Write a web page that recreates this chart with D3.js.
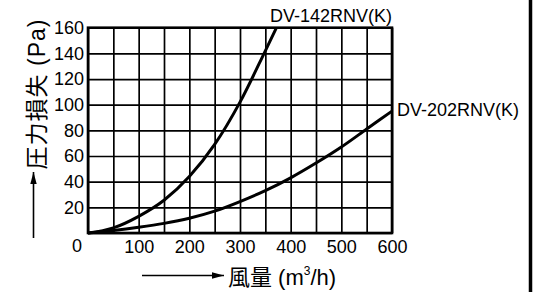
<!DOCTYPE html>
<html>
<head>
<meta charset="utf-8">
<script src="https://cdn.jsdelivr.net/npm/d3@7"></script>
<style>
  body { margin: 0; background: #fff; }
  text { font-family: "Liberation Sans", Arial, "Noto Sans CJK JP", sans-serif; fill: #000; }
  .grid line { stroke: #000; stroke-width: 1.7; }
  .grid path { display: none; }
  .labels path, .labels line { display: none; }
</style>
</head>
<body>
<div id="chart"></div>
<script>
// air flow (m3/h) and pressure loss (Pa)
const flow142 = [0, 50, 100, 150, 200, 250, 300, 350, 372];
const loss142 = [0, 4, 13, 25.5, 44, 69, 102, 142, 160];
const flow202 = [0, 50, 100, 150, 200, 250, 300, 350, 400, 450, 500, 550, 600];
const loss202 = [0, 2, 4.5, 7.5, 11.5, 17, 24.5, 33, 43, 54.5, 67, 81, 95];
const seriesNames = ["DV-142RNV(K)", "DV-202RNV(K)"];
const xTicks = [100, 200, 300, 400, 500, 600];
const yTicks = [20, 40, 60, 80, 100, 120, 140, 160];
const xGrid = d3.range(0, 601, 50);
const yGrid = d3.range(0, 161, 20);

const W = 534, H = 292;
const margin = { top: 27.7, right: 142, bottom: 59, left: 88 };
const width = W - margin.left - margin.right,
      height = H - margin.top - margin.bottom;

const svg = d3.select("#chart").append("svg")
    .attr("width", W)
    .attr("height", H);

const g = svg.append("g")
    .attr("transform", "translate(" + margin.left + "," + margin.top + ")");

const x = d3.scaleLinear().domain([0, 600]).range([0, width]);
const y = d3.scaleLinear().domain([0, 160]).range([height, 0]);

// grid lines
g.append("g").attr("class", "grid")
    .attr("transform", "translate(0," + height + ")")
    .call(d3.axisBottom(x).tickValues(xGrid).tickSize(-height).tickFormat(""));
g.append("g").attr("class", "grid")
    .call(d3.axisLeft(y).tickValues(yGrid).tickSize(-width).tickFormat(""));

// frame
g.append("rect")
    .attr("width", width).attr("height", height)
    .attr("fill", "none").attr("stroke", "#000").attr("stroke-width", 2.6);

// tick labels
g.append("g").attr("class", "labels")
    .attr("transform", "translate(0," + height + ")")
    .call(d3.axisBottom(x).tickValues(xTicks).tickSize(0).tickPadding(7))
    .selectAll("text").style("font-size", "18px");
g.append("g").attr("class", "labels")
    .call(d3.axisLeft(y).tickValues(yTicks).tickSize(0).tickPadding(4))
    .selectAll("text").style("font-size", "18px");
g.append("text")
    .attr("x", x(0) - 11).attr("y", y(0) + 13)
    .attr("text-anchor", "middle").attr("dominant-baseline", "central")
    .style("font-size", "18px")
    .text("0");

// curves
const line = d3.line()
    .x(d => x(d[0])).y(d => y(d[1]))
    .curve(d3.curveMonotoneX);
const series = [d3.zip(flow142, loss142), d3.zip(flow202, loss202)];
g.selectAll(".curve").data(series).enter()
    .append("path").attr("class", "curve")
    .attr("d", line)
    .attr("fill", "none").attr("stroke", "#000").attr("stroke-width", 3);

// series labels
g.append("text")
    .attr("x", width).attr("y", -6)
    .attr("text-anchor", "end")
    .style("font-size", "18px")
    .text(seriesNames[0]);
g.append("text")
    .attr("x", x(600) + 5).attr("y", y(loss202[loss202.length - 1]) - 1)
    .attr("dominant-baseline", "central")
    .style("font-size", "18px")
    .text(seriesNames[1]);

// arrow marker
svg.append("defs").append("marker")
    .attr("id", "arrow")
    .attr("viewBox", "0 0 12 8")
    .attr("refX", 12).attr("refY", 4)
    .attr("markerWidth", 12).attr("markerHeight", 8)
    .attr("markerUnits", "userSpaceOnUse")
    .attr("orient", "auto")
    .append("path").attr("d", "M0,0.8 L12,4 L0,7.2 Z").attr("fill", "#000");

// y axis title with arrow
svg.append("line")
    .attr("x1", 33.5).attr("y1", 238).attr("x2", 33.5).attr("y2", 172)
    .attr("stroke", "#000").attr("stroke-width", 1.6)
    .attr("marker-end", "url(#arrow)");
svg.append("text")
    .attr("transform", "translate(37,94) rotate(-90)")
    .attr("text-anchor", "middle").attr("dominant-baseline", "central")
    .style("font-size", "23px")
    .style("letter-spacing", "1px")
    .text("圧力損失 (Pa)");

// x axis title with arrow
svg.append("line")
    .attr("x1", 142).attr("y1", 275.5).attr("x2", 224).attr("y2", 275.5)
    .attr("stroke", "#000").attr("stroke-width", 1.6)
    .attr("marker-end", "url(#arrow)");
const xt = svg.append("text")
    .attr("x", 228).attr("y", 277)
    .attr("dominant-baseline", "central")
    .style("font-size", "22px");
xt.append("tspan").text("風量 (m");
xt.append("tspan").attr("dy", -6).style("font-size", "12px").text("3");
xt.append("tspan").attr("dy", 6).text("/h)");

// right border of the page
svg.append("line")
    .attr("x1", 530.5).attr("y1", 0).attr("x2", 530.5).attr("y2", H)
    .attr("stroke", "#000").attr("stroke-width", 3.5);
</script>
</body>
</html>
